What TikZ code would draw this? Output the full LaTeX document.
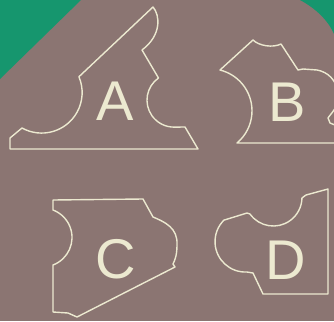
\documentclass[tikz,border=0pt]{standalone}
\usepackage{fontspec}
\setmainfont{Liberation Sans}
\definecolor{bgmauve}{RGB}{139,117,114}
\definecolor{leafgreen}{RGB}{22,150,110}
\definecolor{chalk}{RGB}{236,233,208}

\begin{document}
\begin{tikzpicture}[x=1pt, y=-1pt]
  \tikzstyle{piece} = [draw=chalk, line width=1.4pt, line join=round]
  \tikzstyle{lettr} = [text=chalk, font=\fontsize{56}{60}\selectfont, inner sep=0pt]
  \clip (0,0) rectangle (334,321);
  \fill[bgmauve] (0,0) rectangle (334,321);
  \fill[leafgreen] (0,0) -- (81,0) -- (0,79) -- cycle;
  \fill[leafgreen] (300,0) .. controls (315,8) and (328,20) .. (334,34) -- (334,0) -- cycle;
  \draw[piece] (153,7) .. controls (160,15) and (162,35) .. (142,50) -- (158.5,78)
    arc (235:90:27) -- (185,127) -- (198,149) -- (10,149) -- (10,138) -- (22,128)
    arc (119:-23:40.5) -- cycle;
  \draw[piece] (220,70) -- (253,40) .. controls (259,46) and (273,48) .. (281,44)
    -- (298,70) -- (303,69) -- (317,70) .. controls (328,72) and (336,80) .. (338,92)
    .. controls (340,106) and (332,112) .. (328,118) -- (330,123) -- (342,128)
    -- (342,143) -- (237,143) arc (50:-76.3:42) -- cycle;
  \draw[piece] (53,200) -- (143,199) -- (153,217) .. controls (165,222) and (178,228) .. (177,245)
    .. controls (177,255) and (175,260) .. (173,264) -- (175,267) -- (77,317) -- (68,313)
    -- (53,312) -- (53,265) arc (69.3:-69.3:29.4) -- cycle;
  \draw[piece] (328,189) -- (328,294) -- (263,294) -- (253,273) -- (247,272)
    arc (87:225:30.4) -- (247,213) -- (250,214) arc (144.5:1.2:28.65) -- (306,195) -- cycle;
  \node[lettr] (letA) at (115,101) {A};
  \node[lettr] (letB) at (287,102) {B};
  \node[lettr] (letC) at (116,259) {C};
  \node[lettr] (letD) at (286,260) {D};
\end{tikzpicture}
\end{document}
